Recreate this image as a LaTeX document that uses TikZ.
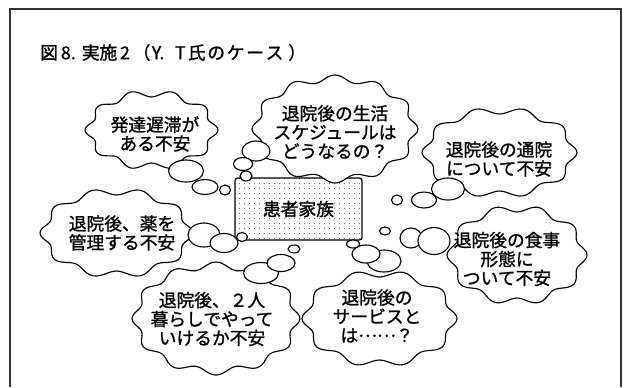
\documentclass[tikz,border=0pt]{standalone}
\usepackage{fontspec}
\newfontfamily\jp[FakeBold=1.2]{Noto Sans CJK JP}
\usetikzlibrary{patterns.meta}
\newcommand\wcloud[6]{%
  \filldraw[ln] plot[smooth cycle, samples=120, domain=0:357, variable=\t]
    ({#1+(#3+#6*cos(#5*\t))*cos(\t)},{#2+(#4+#6*cos(#5*\t))*sin(\t)});}
\newcommand\bub[4]{\filldraw[ln] (#1,#2) ellipse [x radius=#3, y radius=#4];}
\newcommand\tch[1]{\makebox[14.6pt][c]{#1}}
\begin{document}
\begin{tikzpicture}[x=0.75pt,y=-0.75pt,
  ln/.style={line width=0.85pt, draw=black, fill=white},
  txt/.style={font=\jp\fontsize{13.3}{14.2}\selectfont, align=center, inner sep=0pt},
  fambox/.style={draw, line width=0.9pt, rounded corners=2pt, minimum width=95.25pt,
     minimum height=46.5pt, pattern={Dots[distance=4pt, radius=0.32pt]},
     font=\jp\fontsize{13.3}{14.2}\selectfont}]
\useasboundingbox (0,0) rectangle (627,387);
\draw[line width=1pt, draw=black!80] (10,387) -- (10,9) -- (621,9) -- (621,387);
\node[txt, anchor=west] (title) at (40,52.5)
  {図\makebox[17.85pt][l]{\hspace{2.2pt}8.}実施\makebox[11.6pt][c]{2}（\makebox[27.4pt][s]{\hspace{1pt}Y.\hfill T\hspace{1pt}}\tch{氏}\tch{の}\tch{ケ}\tch{ー}\tch{ス}\hspace{3pt}）};

\node[fambox] (fam) at (298.5,209) {患者家族};

% clouds
\wcloud{151.5}{130}{63}{36.5}{10}{3.5}
\node[txt] (c1) at (155,134) {発達遅滞が\\ある不安};
\wcloud{335}{129}{79.5}{50.5}{12}{3.5}
\node[txt] (c2) at (335,132) {退院後の生活\\スケジュールは\\どうなるの？};
\wcloud{499.5}{152.5}{74}{42}{10}{3.5}
\node[txt] (c3) at (499,159) {退院後の通院\\について不安};
\wcloud{116.5}{233}{73}{41.5}{10}{3.5}
\node[txt] (c4) at (122,233) {退院後、薬を\\管理する不安};
\wcloud{216}{318.5}{80.5}{53}{12}{3.5}
\node[txt] (c5) at (212,319) {退院後、２人\\暮らしでやって\\いけるか不安};
\wcloud{379.5}{318.5}{74}{45}{10}{3.5}
\node[txt] (c6) at (377,316) {退院後の\\サービスと\\は\raisebox{0.3em}[0pt][0pt]{……}？};
\wcloud{517}{255}{66.5}{46.5}{10}{3.5}
\node[txt] (c7) at (507,259) {退院後の食事\\形態に\\ついて不安};

% thought bubbles
\bub{186}{171}{17.5}{11}\bub{205}{187}{13}{7.5}\bub{225}{190}{5.5}{5}
\bub{256}{151}{14}{10}\bub{243}{164}{9.5}{6.5}\bub{246}{176}{6}{5}
\bub{448}{189}{16.5}{11}\bub{424}{200}{12.5}{8}\bub{397}{200}{5.5}{5}
\bub{411}{238}{11}{10}\bub{434}{241}{16}{13.5}\bub{385}{231}{5.5}{4}
\bub{384}{261}{17}{11}\bub{366}{254}{14}{9}\bub{353}{244}{6.5}{4}
\bub{204}{235}{16}{12}\bub{224}{243}{14}{9.5}\bub{242}{237}{5.5}{4.5}
\bub{261}{273}{17.5}{10.5}\bub{281}{263}{14}{8.5}\bub{294}{249}{6}{4}
\end{tikzpicture}
\end{document}
